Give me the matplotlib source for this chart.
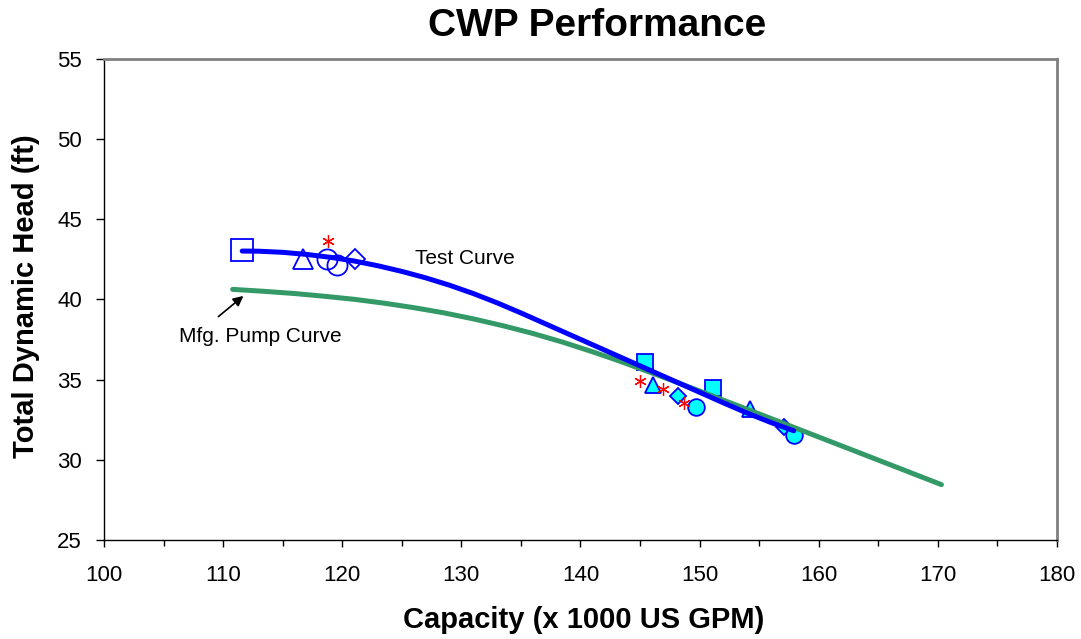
import matplotlib
matplotlib.use("Agg")
import matplotlib.pyplot as plt
from matplotlib.ticker import MultipleLocator

plt.rcParams['font.family'] = ['Liberation Sans', 'DejaVu Sans']

# test run 1 (open markers)
sq_open_x = [111.6]
sq_open_y = [43.1]
tri_open_x = [116.7]
tri_open_y = [42.5]
circ_open_x = [118.75, 119.55]
circ_open_y = [42.5, 42.15]
dia_open_x = [121.05]
dia_open_y = [42.55]

# test run 2 (filled markers)
sq_fill_x = [145.4, 151.1]
sq_fill_y = [36.1, 34.5]
tri_fill_x = [146.05, 154.25]
tri_fill_y = [34.65, 33.15]
dia_fill_x = [148.2, 157.05]
dia_fill_y = [33.95, 32.05]
circ_fill_x = [149.7, 157.95]
circ_fill_y = [33.3, 31.55]

# red asterisks
star_x = [118.8, 145.0, 146.95, 148.7]
star_y = [43.65, 34.9, 34.4, 33.55]

# test curve
test_cap = [111.6, 113, 115, 117, 119, 121, 123, 125, 127, 129, 131, 133, 135,
            137, 139, 141, 143, 145, 147, 149, 151, 152, 154, 156, 157.9]
test_head = [43.02, 43.01, 42.94, 42.81, 42.63, 42.40, 42.10, 41.75, 41.35,
             40.89, 40.37, 39.79, 39.16, 38.50, 37.84, 37.18, 36.52, 35.86,
             35.20, 34.54, 33.88, 33.55, 32.91, 32.32, 31.81]

# manufacturer pump curve
mfg_cap = [110.8, 113.4, 116, 118.5, 121, 123.5, 126, 128.5, 131, 133.5, 136,
           138.5, 141, 143, 145, 147.5, 150, 155, 160, 165, 170.3]
mfg_head = [40.63, 40.51, 40.37, 40.20, 40.01, 39.77, 39.49, 39.17, 38.79,
            38.36, 37.88, 37.34, 36.74, 36.23, 35.69, 35.00, 34.29, 32.86,
            31.42, 29.98, 28.45]

blue = '#0000FF'
cyan = '#00FFFF'
green = '#339966'

fig = plt.figure(figsize=(10.81, 6.39), dpi=100)
ax = fig.add_subplot(111)
fig.subplots_adjust(left=0.0962, right=0.9778, bottom=0.155, top=0.9077)

mew = 1.3
ax.plot(sq_open_x, sq_open_y, 's', ms=16, mfc='none', mec=blue, mew=mew, zorder=2)
ax.plot(tri_open_x, tri_open_y, '^', ms=15, mfc='none', mec=blue, mew=mew, zorder=2)
ax.plot(circ_open_x, circ_open_y, 'o', ms=14.5, mfc='none', mec=blue, mew=mew, zorder=2)
ax.plot(dia_open_x, dia_open_y, 'D', ms=10.5, mfc='none', mec=blue, mew=mew, zorder=2)

ax.plot(sq_fill_x, sq_fill_y, 's', ms=12, mfc=cyan, mec=blue, mew=mew, zorder=2)
ax.plot(tri_fill_x, tri_fill_y, '^', ms=12, mfc=cyan, mec=blue, mew=mew, zorder=2)
ax.plot(dia_fill_x, dia_fill_y, 'D', ms=8, mfc=cyan, mec=blue, mew=mew, zorder=2)
ax.plot(circ_fill_x, circ_fill_y, 'o', ms=12, mfc=cyan, mec=blue, mew=mew, zorder=2)

ax.plot(star_x, star_y, linestyle='none', marker=(6, 2, 0), ms=9, mec='#FF0000',
        mew=0.9, zorder=2)

ax.plot(mfg_cap, mfg_head, color=green, lw=3.6, solid_capstyle='round',
        solid_joinstyle='round', zorder=3)
ax.plot(test_cap, test_head, color=blue, lw=3.6, solid_capstyle='round',
        solid_joinstyle='round', zorder=4)

ax.text(126.1, 42.57, 'Test Curve', fontsize=15, va='center', ha='left')
ax.text(106.3, 37.68, 'Mfg. Pump Curve', fontsize=15, va='center', ha='left')
ax.annotate('', xy=(111.7, 40.22), xytext=(109.6, 38.93),
            arrowprops=dict(arrowstyle='-|>', color='black', lw=1.2,
                            mutation_scale=15, shrinkA=0, shrinkB=0))

ax.set_xlim(100, 180)
ax.set_ylim(25, 55)
ax.xaxis.set_major_locator(MultipleLocator(10))
ax.xaxis.set_minor_locator(MultipleLocator(5))
ax.yaxis.set_major_locator(MultipleLocator(5))
ax.tick_params(axis='x', which='major', direction='out', length=5, width=1,
               labelsize=16, pad=13)
ax.tick_params(axis='x', which='minor', direction='out', length=4, width=1)
ax.tick_params(axis='y', which='major', direction='out', length=6, width=1,
               labelsize=16, pad=10)

for side in ['top', 'right']:
    ax.spines[side].set_color('#808080')
    ax.spines[side].set_linewidth(2)
for side in ['left', 'bottom']:
    ax.spines[side].set_color('black')
    ax.spines[side].set_linewidth(1)

fig.text(0.552, 0.959, 'CWP Performance', fontsize=28, fontweight='bold',
         ha='center', va='center')
fig.text(0.5395, 0.029, 'Capacity (x 1000 US GPM)', fontsize=21,
         fontweight='bold', ha='center', va='center')
fig.text(0.0245, 0.536, 'Total Dynamic Head (ft)', fontsize=21,
         fontweight='bold', ha='center', va='center', rotation=90)

fig.savefig('out.png', dpi=100)
